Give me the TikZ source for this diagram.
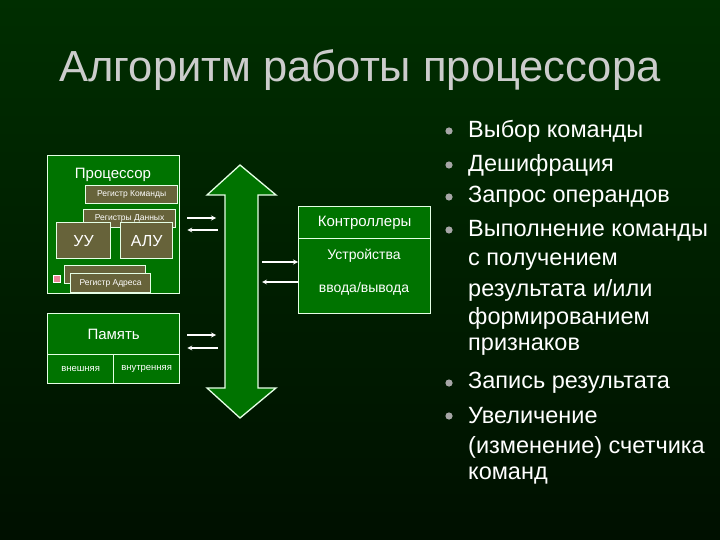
\documentclass[tikz,border=0pt]{standalone}
\usepackage{fontspec}
\setmainfont{Liberation Sans}
\begin{document}
\begin{tikzpicture}[x=1pt,y=-1pt,
  gbox/.style={draw=white!90!green,line width=1.3pt,fill=green!45!black},
  rbox/.style={draw=white!90!green,line width=1.2pt,fill=black!45!olive!80!gray},
  lbl/.style={text=white,font=\fontsize{#1}{#1}\selectfont},
  arr/.style={->,white,line width=1.2pt,>=stealth},
  item/.style={anchor=west,text=white,font=\fontsize{23.5}{23.5}\selectfont,inner sep=0pt}]
\shade[top color=black!55!green!40!black,bottom color=black!75!green!25!black] (0,0) rectangle (720,540);
\useasboundingbox (0,0) rectangle (720,540);
\node[text=gray!40!white,font=\fontsize{43.5}{43.5}\selectfont] (title) at (360,70) {Алгоритм работы процессора};
% processor
\node[gbox,minimum width=132,minimum height=138,anchor=north west] (proc) at (47,155) {};
\node[lbl=15] (proct) at (113,175) {Процессор};
\node[rbox,minimum width=92,minimum height=18,anchor=north west,lbl=8.5] (rk) at (85,185) {Регистр Команды};
\node[rbox,minimum width=92,minimum height=18,anchor=north west,lbl=8.5] (rd) at (83,209) {Регистры Данных};
\node[rbox,minimum width=54,minimum height=36,anchor=north west,lbl=16] (uu) at (56,222) {УУ};
\node[rbox,minimum width=52,minimum height=36,anchor=north west,lbl=16] (alu) at (120,222) {АЛУ};
\node[rbox,minimum width=81,minimum height=18,anchor=north west] (hid) at (64,265) {};
\node[draw=white,fill=pink!70!purple,minimum size=7,inner sep=0pt,anchor=north west] (pk) at (53,275) {};
\node[rbox,minimum width=80,minimum height=19,anchor=north west,lbl=8.5] (ra) at (70,273) {Регистр Адреса};
% memory
\node[gbox,minimum width=132,minimum height=41,anchor=north west,lbl=15] (mem) at (47,313) {Память};
\node[gbox,minimum width=66,minimum height=29,anchor=north west,lbl=9.5] (ext) at (47,354) {внешняя};
\node[gbox,minimum width=66,minimum height=29,anchor=north west,lbl=9.5] (int) at (113,354) {внутренняя};
% bus
\draw[gbox] (225,195) -- (207,195) -- (240,165) -- (276,195) -- (258,195) -- (258,388) -- (276,388) -- (240,418) -- (207,388) -- (225,388) -- cycle;
\coordinate (bl1) at (216,218); \coordinate (bl2) at (218,230);
\coordinate (bl3) at (216,335); \coordinate (bl4) at (218,348);
\coordinate (br1) at (262,262); \coordinate (br2) at (262,282);
% io
\node[gbox,minimum width=132,minimum height=32,anchor=north west,lbl=15] (ctl) at (298,206) {Контроллеры};
\node[gbox,minimum width=132,minimum height=75,anchor=north west] (io) at (298,238) {};
\node[lbl=14] (io1) at (364,256) {Устройства};
\node[lbl=14] (io2) at (364,289) {ввода/вывода};
\draw[arr] (proc.east|-bl1) ++(7,0) -- (bl1);
\draw[arr] (bl2) -- ([xshift=7]proc.east|-bl2);
\draw[arr] (mem.east|-bl3) ++(7,0) -- (bl3);
\draw[arr] (bl4) -- ([xshift=7]mem.east|-bl4);
\draw[arr] (br1) -- (io.west|-br1);
\draw[arr] (io.west|-br2) -- (br2);
% bullets
\foreach \y in {131,165,197,230,383,416} \fill[gray!70!white] (449,\y) circle (3.6);
\node[item] (i1) at (468,131) {Выбор команды};
\node[item] (i2) at (468,165) {Дешифрация};
\node[item] (i3) at (468,197) {Запрос операндов};
\node[item] (i4) at (468,231) {Выполнение команды};
\node[item] (i5) at (468,262) {с получением};
\node[item] (i6) at (468,290) {результата и/или};
\node[item] (i7) at (468,318) {формированием};
\node[item] (i8) at (468,347) {признаков};
\node[item] (i9) at (468,383) {Запись результата};
\node[item] (i10) at (468,416) {Увеличение};
\node[item] (i11) at (468,447) {(изменение) счетчика};
\node[item] (i12) at (468,476) {команд};
\end{tikzpicture}
\end{document}
